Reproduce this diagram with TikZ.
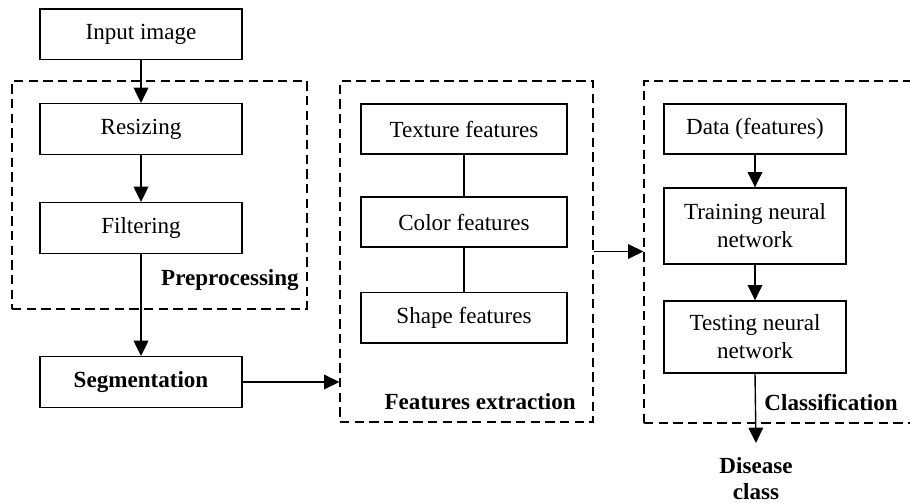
\documentclass[tikz,border=0pt]{standalone}
\usepackage{fontspec}
\setmainfont{Liberation Serif}
\usetikzlibrary{arrows.meta,calc}

\tikzset{
  stepbox/.style={draw, line width=1pt, inner sep=0pt, align=center,
    minimum width=151.5pt, minimum height=38pt,
    font=\fontsize{17.3}{21}\selectfont},
  groupbox/.style={draw, line width=0.9pt, dash pattern=on 7pt off 4pt, inner sep=0pt},
  grouplabel/.style={anchor=east, inner sep=0pt, font=\fontsize{17.3}{21}\selectfont\bfseries},
  flow/.style={line width=1.05pt, -{Triangle[length=11.5pt,width=11pt]}},
  link/.style={line width=1.05pt}
}

\begin{document}
\begin{tikzpicture}[x=0.75pt, y=-0.75pt]
  \useasboundingbox (0,0) rectangle (910,503);
  \clip (0,0) rectangle (910,503);

  % stage frames
  \node[groupbox, minimum width=221.25pt, minimum height=171pt] (pre) at (159.5,195) {};
  \node[groupbox, minimum width=189.75pt, minimum height=255.75pt] (feat) at (466.5,251.5) {};
  \node[groupbox, minimum width=214.5pt, minimum height=256.5pt] (cls) at (787,252) {};

  % preprocessing chain
  \node[stepbox] (input) at (141,34.5) {Input image};
  \node[stepbox] (resize) at (141,129) {Resizing};
  \node[stepbox] (filter) at (141,228) {Filtering};
  \node[stepbox, font=\fontsize{17.3}{21}\selectfont\bfseries] (seg) at (141,382) {Segmentation};

  % feature blocks
  \node[stepbox, minimum width=154.5pt, minimum height=37.5pt] (tex) at (464,129) {Texture features};
  \node[stepbox, minimum width=154.5pt, minimum height=37.5pt] (col) at (464,222) {Color features};
  \node[stepbox, minimum width=154.5pt, minimum height=38pt] (shp) at (464,317.5) {Shape features};

  % classifier blocks
  \node[stepbox, minimum width=136.5pt, minimum height=37.5pt] (data) at (755,129) {Data (features)};
  \node[stepbox, minimum width=136.5pt, minimum height=57pt] (train) at (755,226) {Training neural\\network};
  \node[stepbox, minimum width=136.5pt, minimum height=54pt] (test) at (755,337) {Testing neural\\network};

  % frame captions
  \node[grouplabel] (prelab) at (299,280) {Preprocessing};
  \node[grouplabel] (featlab) at (576,402) {Features extraction};
  \node[grouplabel] (clslab) at (898,402) {Classification};

  % output
  \node[inner sep=0pt, outer ysep=11pt, anchor=north, align=center,
        font=\fontsize{17.3}{19.5}\selectfont\bfseries] (out) at (756,443) {Disease\\class};

  % connectors
  \draw[flow] (input) -- (resize);
  \draw[flow] (resize) -- (filter);
  \draw[flow] (filter) -- (seg);
  \draw[flow] (seg.east) -- (seg.east -| feat.west);
  \draw[link] (tex) -- (col);
  \draw[link] (col) -- (shp);
  \draw[flow] (feat.east) -- (feat.east -| cls.west);
  \draw[flow] (data) -- (train);
  \draw[flow] (train) -- (test);
  \draw[flow] (test.south) -- (out.north);
\end{tikzpicture}
\end{document}
